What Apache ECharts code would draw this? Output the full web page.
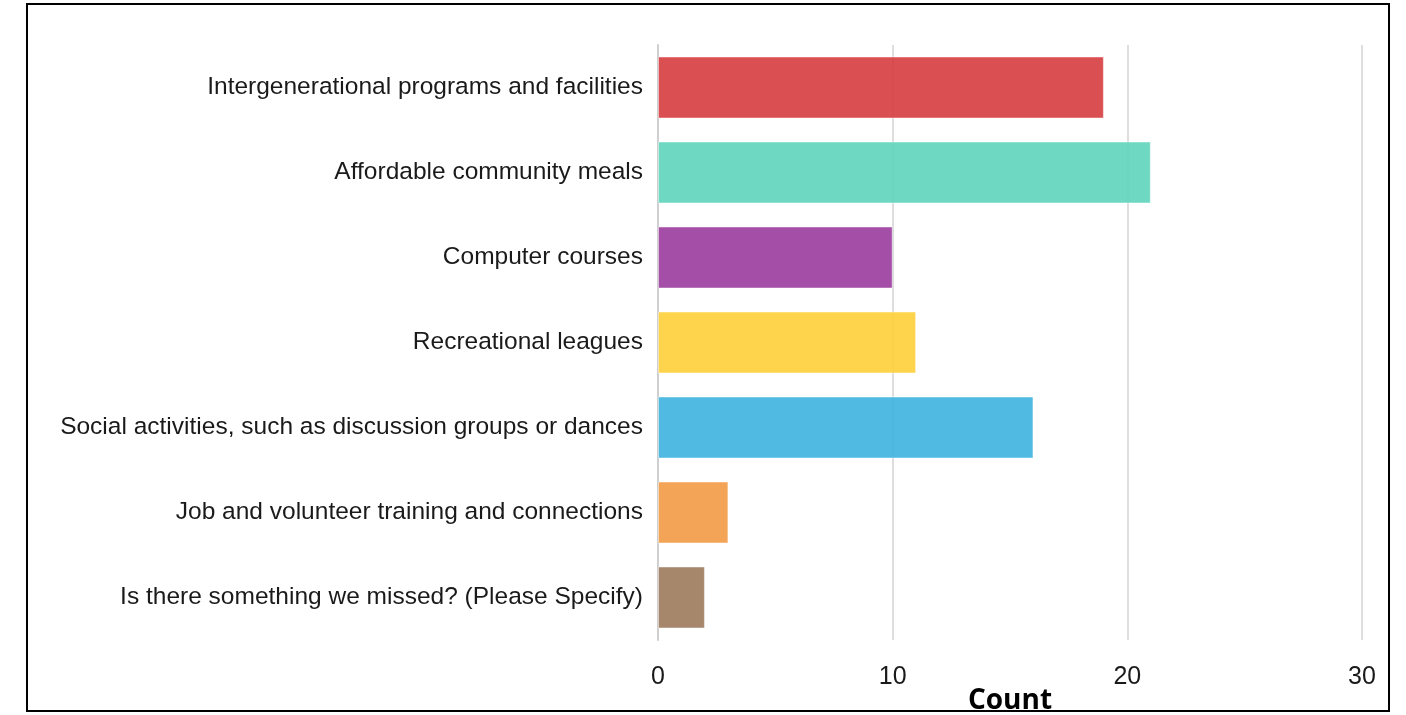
<!DOCTYPE html>
<html>
<head>
<meta charset="utf-8">
<script src="https://cdn.jsdelivr.net/npm/echarts@6/dist/echarts.min.js"></script>
<style>
  html, body { margin: 0; padding: 0; background: #fff; }
</style>
</head>
<body>
<div id="chart" style="width: 1406px; height: 715px"></div>
<script>
// categories, top to bottom as in the picture
const categories = [
  'Intergenerational programs and facilities',
  'Affordable community meals',
  'Computer courses',
  'Recreational leagues',
  'Social activities, such as discussion groups or dances',
  'Job and volunteer training and connections',
  'Is there something we missed? (Please Specify)'
]
const counts = [19, 21, 10, 11, 16, 3, 2]
const barColors = ['#d63c3e', '#5ed4bb', '#9a3b9d', '#fecf3a', '#3db3df', '#f39a45', '#9c7a5c']
const xTicks = [0, 10, 20, 30]

const labelFont = '"Liberation Sans Narrow", "Liberation Sans", Arial, sans-serif'

const chart = echarts.init(document.getElementById('chart'))

const option = {
  animation: false,
  graphic: [
    {
      type: 'rect',
      shape: { x: 27, y: 4, width: 1362, height: 707 },
      style: { fill: 'none', stroke: '#000', lineWidth: 2 },
      z: 100
    }
  ],
  grid: {
    left: 658,
    right: 44,
    top: 45,
    bottom: 75,
    outerBoundsMode: 'none'
  },
  xAxis: {
    type: 'value',
    min: xTicks[0],
    max: xTicks[xTicks.length - 1],
    interval: 10,
    name: 'Count',
    nameLocation: 'middle',
    nameGap: 47,
    nameMoveOverlap: false,
    nameTextStyle: {
      fontFamily: '"Open Sans", "DejaVu Sans", sans-serif',
      fontWeight: 'bold',
      fontSize: 28,
      color: '#000'
    },
    axisLine: { show: false },
    axisTick: { show: false },
    axisLabel: {
      margin: 25,
      fontFamily: labelFont,
      fontSize: 25,
      color: '#1a1a1a'
    },
    splitLine: { lineStyle: { color: '#dedede', width: 2 } }
  },
  yAxis: {
    type: 'category',
    inverse: true,
    data: categories,
    axisLine: { lineStyle: { color: '#cfcfcf', width: 2 } },
    axisTick: { show: false },
    axisLabel: {
      margin: 15,
      fontFamily: labelFont,
      fontSize: 24.5,
      color: '#1a1a1a'
    }
  },
  series: [
    {
      type: 'bar',
      barWidth: 62,
      data: counts.map((v, i) => ({
        value: v,
        itemStyle: {
          color: barColors[i],
          opacity: 0.9,
          borderColor: 'rgba(255,255,255,0.5)',
          borderWidth: 1
        }
      }))
    }
  ]
}
chart.setOption(option)
</script>
</body>
</html>
